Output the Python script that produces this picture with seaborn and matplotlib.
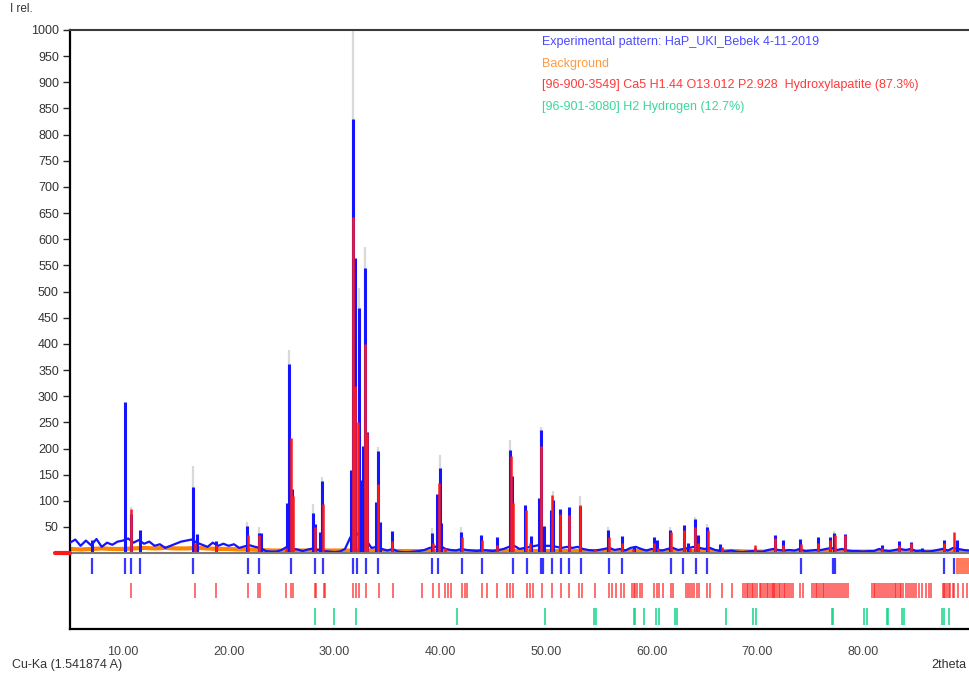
import numpy as np
import pandas as pd
import seaborn as sns
import matplotlib.pyplot as plt

# experimental baseline (noise), every 0.5 deg from 5 to 90
base_x = np.arange(5.0, 90.01, 0.5)
base_y = [20, 26, 14, 24, 15, 27, 12, 20, 16, 22,
          24, 28, 20, 25, 18, 22, 14, 17, 10, 14,
          18, 22, 24, 26, 20, 16, 12, 20, 14, 18,
          14, 17, 10, 13, 15, 12, 10, 4, 3, 3,
          6, 12, 8, 7, 4, 7, 9, 6, 4, 3,
          2, 3, 8, 30, 40, 30, 25, 10, 12, 8,
          5, 8, 3, 2, 2, 3, 4, 6, 10, 12,
          14, 8, 6, 5, 8, 6, 5, 4, 6, 5,
          4, 6, 8, 12, 14, 8, 10, 12, 14, 16,
          14, 14, 12, 10, 12, 10, 12, 8, 6, 5,
          6, 8, 10, 6, 8, 5, 10, 12, 8, 5,
          8, 6, 5, 8, 10, 6, 8, 10, 12, 10,
          8, 10, 6, 4, 3, 5, 3, 2, 3, 4,
          3, 3, 6, 8, 6, 5, 6, 5, 8, 4,
          5, 6, 6, 8, 10, 6, 8, 5, 4, 4,
          3, 4, 4, 8, 5, 4, 6, 8, 6, 8,
          4, 5, 3, 4, 6, 8, 5, 10, 8, 6,
          5]

# background, every 1 deg
bg_x = np.arange(5, 91, 1)
bg_y = [8, 7, 8, 9, 8, 8, 9, 10, 9, 10,
        9, 9, 10, 9, 8, 8, 7, 7, 6, 5,
        5, 5, 5, 5, 5, 5, 5, 5, 5, 5,
        4, 4, 4, 4, 4, 4, 4, 4, 4, 4,
        4, 4, 4, 4, 4, 4, 4, 4, 4, 4,
        4, 4, 4, 4, 4, 4, 4, 4, 4, 4,
        4, 4, 4, 4, 3, 3, 3, 3, 3, 3,
        3, 3, 3, 3, 3, 3, 3, 3, 3, 3,
        3, 3, 3, 3, 3, 3]

# experimental peaks
exp_pos = [7.1, 10.2, 10.75, 11.6, 16.67, 17.0, 18.8, 21.7, 22.85, 23.05,
           25.56, 25.72, 26.0, 28.0, 28.2, 28.6, 28.8, 31.55, 31.72, 31.9,
           32.28, 32.45, 32.75, 32.92, 33.1, 33.95, 34.1, 34.3, 35.45, 39.2,
           39.7, 39.94, 40.07, 42.0, 43.9, 45.4, 46.6, 46.8, 48.05, 48.6,
           49.37, 49.56, 49.78, 50.5, 50.67, 51.36, 52.14, 53.25, 55.9, 57.2,
           58.3, 60.2, 60.5, 61.7, 63.1, 63.4, 64.1, 64.4, 65.2, 66.5,
           69.8, 71.7, 72.4, 74.0, 75.7, 76.9, 77.2, 78.3, 81.8, 83.4,
           84.5, 85.6, 87.6, 88.9]
exp_int = [25, 289, 74, 45, 126, 37, 24, 51, 38, 38,
           96, 362, 123, 76, 56, 40, 138, 158, 829, 565,
           468, 140, 204, 546, 231, 97, 195, 59, 43, 38,
           113, 162, 57, 41, 35, 31, 198, 147, 92, 32,
           105, 235, 51, 82, 102, 84, 89, 90, 45, 32,
           13, 31, 25, 44, 53, 20, 65, 35, 50, 18,
           10, 35, 25, 27, 30, 30, 38, 36, 15, 23,
           22, 10, 25, 25]

# calculated (hydroxylapatite) peaks
calc_pos = [10.8, 16.8, 18.8, 21.8, 22.9, 25.4, 25.88, 26.05, 28.2, 28.95,
            31.75, 31.95, 32.2, 32.9, 33.1, 34.1, 35.45, 39.3, 39.85, 40.5,
            42.05, 43.95, 45.4, 46.65, 46.85, 48.1, 48.5, 49.5, 50.6, 51.35,
            52.15, 53.2, 54.6, 55.95, 57.2, 58.2, 60.2, 60.6, 61.8, 63.1,
            63.6, 64.1, 64.4, 65.3, 66.6, 69.8, 71.7, 72.4, 74.1, 75.7,
            76.9, 77.3, 78.3, 81.8, 83.4, 84.5, 87.6, 88.6]
calc_int = [85, 20, 15, 34, 34, 10, 220, 110, 50, 94,
            643, 320, 250, 400, 230, 133, 24, 20, 134, 10,
            30, 25, 15, 185, 96, 83, 20, 204, 112, 75,
            73, 92, 8, 30, 20, 8, 20, 10, 40, 45,
            10, 50, 20, 45, 12, 15, 28, 15, 18, 20,
            25, 35, 35, 10, 15, 20, 20, 40]

# light grey tops
grey_pos = [10.8, 16.67, 21.7, 22.85, 25.72, 28.0, 28.8, 31.72, 32.28, 32.92,
            34.1, 39.2, 39.94, 42.0, 46.6, 49.56, 50.67, 53.25, 55.9, 61.7,
            64.1, 65.2, 77.2]
grey_int = [88, 166, 59, 50, 388, 94, 145, 1000, 507, 586,
            203, 48, 188, 50, 217, 242, 118, 110, 50, 50,
            70, 55, 42]

# reflection markers
obs_ticks = [7.1, 10.2, 10.8, 11.6, 16.6, 21.8, 22.85, 25.9, 28.2, 28.9,
             31.8, 32.1, 33.0, 34.1, 39.2, 39.8, 42.05, 43.95, 46.9, 48.2,
             49.5, 49.7, 50.6, 51.4, 52.2, 53.3, 56.0, 57.2, 61.8, 63.0,
             64.2, 65.2, 74.1, 77.1, 77.3, 87.6, 88.6]
extra_ticks = [88.95, 89.05, 89.15, 89.25, 89.35, 89.45, 89.55, 89.65, 89.75, 89.85, 89.95]
hap_ticks = [10.8, 16.8, 18.8, 21.8, 22.8, 23.0, 25.4, 25.9, 26.1, 28.2,
             28.3, 29.0, 29.1, 31.8, 32.0, 32.3, 33.0, 34.2, 35.5, 38.3,
             39.3, 39.9, 40.5, 40.7, 41.0, 42.05, 42.3, 42.5, 43.95, 44.4,
             45.4, 46.3, 46.6, 46.9, 48.2, 48.45, 48.8, 49.6, 50.6, 51.4,
             52.2, 53.1, 53.4, 54.6, 56.0, 56.2, 56.6, 57.1, 57.4, 58.1,
             58.3, 58.4, 58.6, 58.9, 59.1, 60.2, 60.5, 60.65, 61.05, 61.8,
             62.0, 63.2, 63.4, 63.6, 63.8, 64.0, 64.3, 64.5, 65.2, 65.5,
             66.6, 67.6, 68.6, 68.8, 69.0, 69.1, 69.3, 69.5, 69.6, 69.8,
             70.0, 70.2, 70.3, 70.5, 70.7, 70.9, 71.0, 71.2, 71.35, 71.45,
             71.55, 71.65, 71.8, 72.0, 72.1, 72.3, 72.5, 72.6, 72.8, 73.0,
             73.2, 73.4, 74.0, 74.3, 75.2, 75.35, 75.5, 75.6, 75.8, 76.0,
             76.2, 76.3, 76.5, 76.7, 76.9, 77.0, 77.2, 77.4, 77.6, 77.8,
             78.0, 78.2, 78.4, 78.6, 80.8, 81.0, 81.1, 81.3, 81.5, 81.7,
             81.9, 82.1, 82.2, 82.4, 82.6, 82.8, 83.0, 83.1, 83.3, 83.5,
             83.6, 83.8, 84.0, 84.2, 84.4, 84.6, 84.8, 85.0, 85.3, 85.6,
             85.9, 86.2, 86.4, 87.5, 87.6, 87.7, 87.9, 88.1, 88.2, 88.5,
             88.6, 89.0, 89.4, 89.8]
h2_ticks = [28.2, 30.0, 32.0, 41.6, 49.9, 54.5, 54.7, 58.3, 58.45, 59.3,
            60.4, 60.65, 62.2, 62.4, 67.0, 69.6, 69.9, 77.0, 77.15, 80.1,
            80.4, 82.2, 82.35, 83.7, 83.9, 87.4, 87.6, 88.1]

legend_lines = ["Experimental pattern: HaP_UKI_Bebek 4-11-2019",
                "Background",
                "[96-900-3549] Ca5 H1.44 O13.012 P2.928  Hydroxylapatite (87.3%)",
                "[96-901-3080] H2 Hydrogen (12.7%)"]
legend_colors = ["#4a4aff", "#ff9a40", "#ff3a3a", "#3ad89a"]

BLUE = "#1414ff"
RED = "#ff1a1a"
GREEN = "#14d68a"
ORANGE = "#ff8400"

sns.set_style("ticks")
plt.rcParams['font.family'] = ['Liberation Sans', 'DejaVu Sans']

fig = plt.figure(figsize=(9.69, 6.74), dpi=100)
ax = fig.add_axes([70 / 969, 45 / 674, 899 / 969, 599 / 674])

ax.set_xlim(5, 90)
ax.set_ylim(-145, 1000)

# grey tops behind
ax.vlines(grey_pos, 0, grey_int, color="#d9d9d9", lw=1.6, zorder=1)

df_bg = pd.DataFrame({"x": bg_x, "y": bg_y})
sns.lineplot(data=df_bg, x="x", y="y", color=ORANGE, lw=3, ax=ax,
             estimator=None, sort=False, zorder=2)
df_base = pd.DataFrame({"x": base_x, "y": base_y})
sns.lineplot(data=df_base, x="x", y="y", color=BLUE, lw=1.6, ax=ax,
             estimator=None, sort=False, zorder=3)

ax.vlines(exp_pos, 0, exp_int, color=BLUE, lw=2.2, zorder=4)
ax.vlines(calc_pos, 0, calc_int, color=RED, lw=1.8, zorder=5)

# baseline
ax.axhline(0, color="#7a7a7a", lw=1.5, zorder=6)
ax.plot([3.6, 5], [0, 0], color=RED, lw=3, clip_on=False, zorder=6)

# reflection marker rows
ax.vlines(obs_ticks, -10, -40, color=BLUE, lw=1.6, alpha=0.85)
ax.vlines(extra_ticks, -10, -40, color="#ff7b5c", lw=3)
ax.vlines(hap_ticks, -58, -86, color=RED, lw=1.1, alpha=0.8)
ax.vlines(h2_ticks, -105, -138, color=GREEN, lw=1.4, alpha=0.8)

ax.set_yticks(np.arange(50, 1001, 50))
ax.set_xticks([10, 20, 30, 40, 50, 60, 70, 80])
ax.set_xticklabels(["%.2f" % v for v in [10, 20, 30, 40, 50, 60, 70, 80]])
ax.tick_params(axis="y", length=5, width=1, labelsize=9, labelcolor="#333333", pad=3)
ax.tick_params(axis="x", length=0, labelsize=9, labelcolor="#444444", pad=12)
ax.set_xlabel("")
ax.set_ylabel("")

for s in ["left", "bottom"]:
    ax.spines[s].set_linewidth(1.6)
    ax.spines[s].set_color("black")
ax.spines["top"].set_color("#3a3a3a")
ax.spines["top"].set_linewidth(1.5)
ax.spines["right"].set_visible(False)

for i, (txt, col) in enumerate(zip(legend_lines, legend_colors)):
    ax.text(0.525, 0.980 - i * 0.0362, txt, color=col, fontsize=9,
            transform=ax.transAxes, va="center", ha="left")

fig.text(10 / 969, 1 - 9 / 674, "I rel.", fontsize=8.5, color="#333333", va="center")
fig.text(12 / 969, 1 - 665 / 674, "Cu-Ka (1.541874 A)", fontsize=9, color="#333333", va="center")
fig.text(966 / 969, 1 - 665 / 674, "2theta", fontsize=9, color="#333333", va="center", ha="right")

fig.savefig("out.png", dpi=100)
